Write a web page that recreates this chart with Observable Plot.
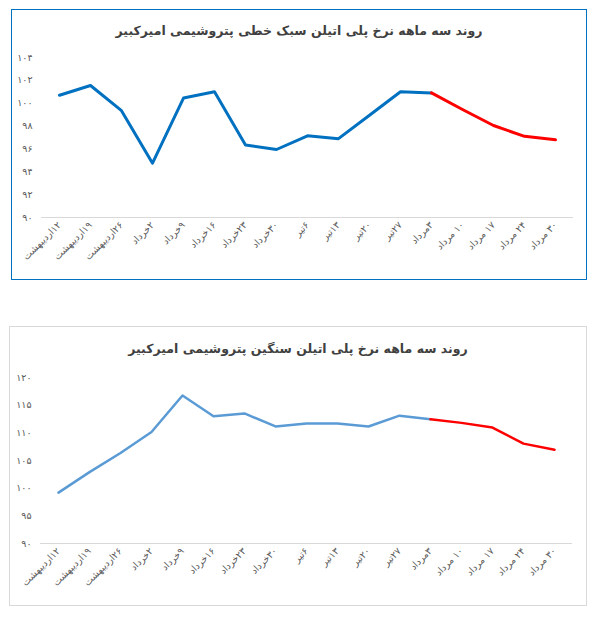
<!DOCTYPE html>
<html>
<head>
<meta charset="utf-8">
<script src="https://cdn.jsdelivr.net/npm/d3@7"></script>
<script src="https://cdn.jsdelivr.net/npm/@observablehq/plot@0.6"></script>
<style>
  body { margin: 0; background: #fff; width: 610px; height: 617px; position: relative; overflow: hidden; font-family: "DejaVu Sans", sans-serif; }
  .panel { position: absolute; box-sizing: border-box; }
  #p1 { left: 11px; top: 9px; width: 576px; height: 271px; border: 1.5px solid #0070C0; }
  #p2 { left: 9px; top: 326px; width: 578px; height: 280px; border: 1px solid #d9d9d9; }
  .title { position: absolute; width: 600px; text-align: center; font-weight: bold; font-size: 12.5px; color: #404040; direction: rtl; }
  .chart { position: absolute; left: 0; }
</style>
</head>
<body>
<div class="panel" id="p1"></div>
<div class="panel" id="p2"></div>
<div class="title" id="t1" style="left:-1px; top:23px;">روند سه ماهه نرخ پلی اتیلن سبک خطی پتروشیمی امیرکبیر</div>
<div class="title" id="t2" style="left:-2px; top:341px;">روند سه ماهه نرخ پلی اتیلن سنگین پتروشیمی امیرکبیر</div>
<div class="chart" id="c1" style="top:0px;"></div>
<div class="chart" id="c2" style="top:300px;"></div>
<script>
const dates = ["۱۲اردیبهشت","۱۹اردیبهشت","۲۶اردیبهشت","۲خرداد","۹خرداد","۱۶خرداد","۲۳خرداد","۳۰خرداد","۶تیر","۱۳تیر","۲۰تیر","۲۷تیر","۳مرداد","۱۰ مرداد","۱۷ مرداد","۲۴ مرداد","۳۰ مرداد"];
const lightValues = [100.7, 101.55, 99.35, 94.75, 100.45, 101.0, 96.35, 95.95, 97.15, 96.9, 98.95, 101.0, 100.9, 99.45, 98.05, 97.1, 96.8];
const heavyValues = [99.2, 102.9, 106.35, 110.15, 116.75, 113.0, 113.5, 111.15, 111.7, 111.7, 111.15, 113.1, 112.45, 111.8, 110.95, 108.05, 106.95];
const splitIndex = 12; // history (blue) up to here, then red
const lightTicks = [90, 92, 94, 96, 98, 100, 102, 104];
const heavyTicks = [90, 95, 100, 105, 110, 115, 120];

const fa = n => String(n).replace(/\d/g, d => "۰۱۲۳۴۵۶۷۸۹"[d]);
const rows = vals => vals.map((v, i) => ({date: dates[i], value: v, i}));

function chart(vals, ticks, blue, width3, opts) {
  const data = rows(vals);
  return Plot.plot({
    width: 610,
    height: opts.height,
    marginLeft: opts.ml, marginRight: opts.mr, marginTop: opts.mt, marginBottom: opts.mb,
    style: {fontFamily: "DejaVu Sans, sans-serif", fontSize: "9.5px", color: "#595959", background: "transparent", overflow: "visible"},
    x: {type: "point", domain: dates, padding: 0.5, label: null},
    y: {domain: [ticks[0], ticks[ticks.length - 1]], label: null},
    marks: [
      Plot.axisX({tickRotate: -45, tickSize: 0, tickPadding: 6, tickFormat: d => "\u200F" + d, fontSize: 9.5, fill: "#595959"}),
      Plot.axisY({ticks, tickSize: 0, tickPadding: 9, tickFormat: fa, fontSize: 9.5, fill: "#595959"}),
      Plot.ruleY([ticks[0]], {stroke: "#d9d9d9", strokeWidth: 1}),
      Plot.line(data.filter(d => d.i <= splitIndex), {x: "date", y: "value", stroke: blue, strokeWidth: width3}),
      Plot.line(data.filter(d => d.i >= splitIndex), {x: "date", y: "value", stroke: "#FF0000", strokeWidth: width3})
    ]
  });
}

document.getElementById("c1").append(chart(lightValues, lightTicks, "#0070C0", 3, {height: 280, ml: 41, mr: 37, mt: 57, mb: 63}));
document.getElementById("c2").append(chart(heavyValues, heavyTicks, "#5B9BD5", 2.5, {height: 310, ml: 40, mr: 38, mt: 77, mb: 67}));
</script>
</body>
</html>
